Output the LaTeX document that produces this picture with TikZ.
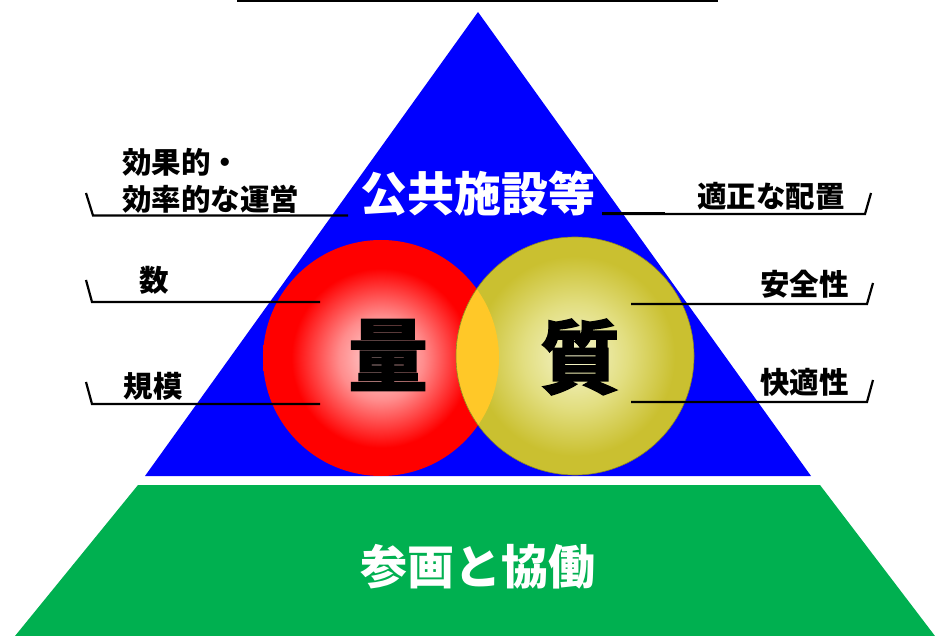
\documentclass[tikz,border=0pt]{standalone}
\usepackage{fontspec}
\setmainfont{Noto Sans CJK JP}
\newfontfamily\heavyjp{Noto Sans CJK JP}[BoldFeatures={FakeBold=1.5}]
\usetikzlibrary{calc}
\definecolor{pblue}{RGB}{0,0,255}
\definecolor{pgreen}{RGB}{0,176,80}
\definecolor{ballred}{RGB}{255,0,0}
\definecolor{ballredc}{RGB}{255,222,222}
\definecolor{ballredm}{RGB}{255,140,140}
\definecolor{ballyel}{RGB}{202,192,48}
\definecolor{ballyelm}{RGB}{226,222,128}
\definecolor{ballyelc}{RGB}{245,245,205}
\definecolor{lensc}{RGB}{255,200,40}
\pgfdeclareradialshading{redball}{\pgfpoint{0bp}{0bp}}{color(0bp)=(ballredc); color(9bp)=(ballredm); color(19bp)=(ballred); color(25bp)=(ballred); color(50bp)=(ballred)}
\pgfdeclareradialshading{yelball}{\pgfpoint{0bp}{0bp}}{color(0bp)=(ballyelc); color(11bp)=(ballyelm); color(21bp)=(ballyel); color(25bp)=(ballyel); color(50bp)=(ballyel)}
\tikzset{
  lbl/.style={font=\bfseries\fontsize{29.5}{31}\selectfont, inner sep=0pt, text=black},
  wtitle/.style={font=\bfseries\fontsize{47}{50}\selectfont, inner sep=0pt, text=white},
  bigk/.style={font=\heavyjp\bfseries\fontsize{80}{84}\selectfont, inner sep=0pt, text=black},
  leader/.style={draw=black, line width=2.2pt},
}
\begin{document}
\begin{tikzpicture}[x=1pt,y=-1pt]
\useasboundingbox (0,0) rectangle (935,636);
% top line
\coordinate (tl) at (237,1.2);
\coordinate (tr) at (718,1.2);
\draw[line width=2.5pt] (tl) -- (tr);
% blue triangle
\fill[pblue] (478,12) -- (811,476) -- (145,476) -- cycle;
% green trapezoid
\fill[pgreen] (138,485) -- (820,485) -- (935,636) -- (15,636) -- cycle;
% circles
\coordinate (rc) at (381,358);
\coordinate (yc) at (575,356);
\shade[shading=redball] (rc) circle[radius=118];
\shade[shading=yelball] (yc) circle[radius=119];
\begin{scope}
  \clip (rc) circle[radius=118];
  \fill[lensc] (yc) circle[radius=119];
\end{scope}
\draw[ballyel!70!black, line width=0.6pt] (yc) circle[radius=119];
% titles
\node[wtitle] (kokyo) at (478,194) {公共施設等};
\node[wtitle] (sankaku) at (478,567) {参画と協働};
\node[bigk] (ryo) at (388,355) {量};
\node[bigk] (shitsu) at (580,357) {質};
% labels
\node[lbl, anchor=west] (kouka) at (122,162) {効果的・};
\node[lbl, anchor=west] (kouritsu) at (122,199) {効率的な運営};
\node[lbl, anchor=east] (tekisei) at (845,196) {適正な配置};
\node[lbl] (kazu) at (154,280) {数};
\node[lbl] (kibo) at (153,386) {規模};
\node[lbl, anchor=east] (anzen) at (849,284) {安全性};
\node[lbl, anchor=east] (kaiteki) at (849,382) {快適性};
% leaders
\coordinate (a1) at (86,193); \coordinate (a2) at (93,215.5); \coordinate (a3) at (348,215.5);
\draw[leader, line join=miter] (a1) -- (a2) -- (a3);
\coordinate (b1) at (602,214); \coordinate (b2) at (865,214); \coordinate (b3) at (871,193);
\draw[leader] (b1) -- (b2) -- (b3);
\draw[line width=3pt] (b1) -- (665,214);
\coordinate (c1) at (86,280); \coordinate (c2) at (92,302); \coordinate (c3) at (320,302);
\draw[leader] (c1) -- (c2) -- (c3);
\coordinate (d1) at (86,382); \coordinate (d2) at (92,404); \coordinate (d3) at (320,404);
\draw[leader] (d1) -- (d2) -- (d3);
\coordinate (e1) at (631,304); \coordinate (e2) at (867,304); \coordinate (e3) at (873,283);
\draw[leader] (e1) -- (e2) -- (e3);
\coordinate (f1) at (631,402); \coordinate (f2) at (867,402); \coordinate (f3) at (873,380);
\draw[leader] (f1) -- (f2) -- (f3);
\end{tikzpicture}
\end{document}
